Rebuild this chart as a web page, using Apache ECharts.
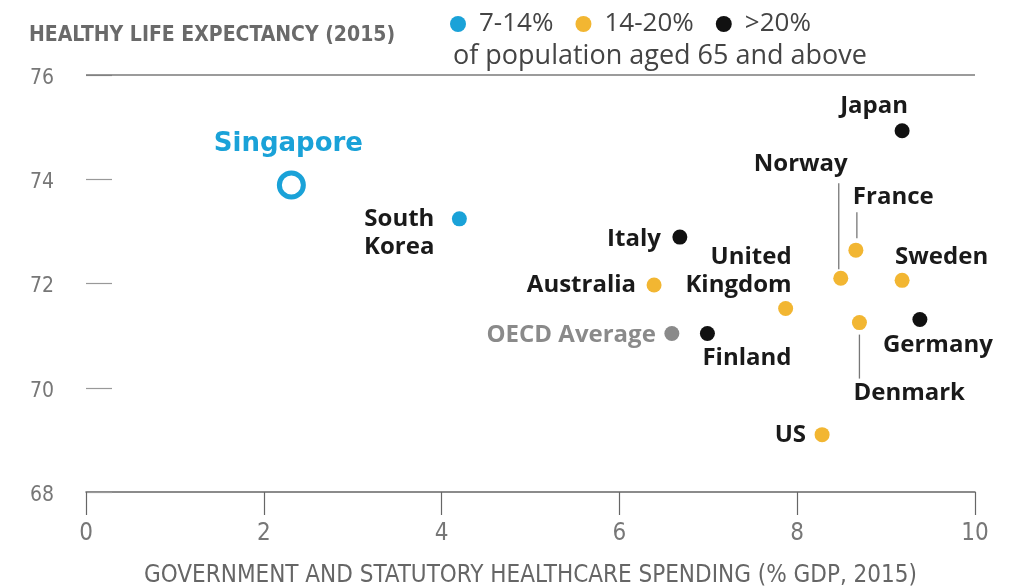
<!DOCTYPE html>
<html><head><meta charset="utf-8">
<script src="https://cdn.jsdelivr.net/npm/echarts@6/dist/echarts.min.js"></script>
<style>html,body{margin:0;padding:0;background:#fff;overflow:hidden;}#c{width:1021px;height:587px;}</style>
</head><body><div id="c"></div>
<script>
// ---- data ----
const countries = ['Singapore','South Korea','Japan','Italy','Finland','Germany','France','Norway','Sweden','Australia','United Kingdom','Denmark','US','OECD Average'];
const labelTexts = ['Singapore','South\nKorea','Japan','Italy','Finland','Germany','France','Norway','Sweden','Australia','United\nKingdom','Denmark','US','OECD Average'];
const spending = [2.31, 4.20, 9.18, 6.68, 6.99, 9.38, 8.66, 8.49, 9.18, 6.39, 7.87, 8.70, 8.28, 6.59];
const lifeExp  = [73.89, 73.24, 74.93, 72.89, 71.04, 71.31, 72.64, 72.10, 72.06, 71.97, 71.52, 71.25, 69.10, 71.04];
const ageGroup = ['7-14%','7-14%','>20%','>20%','>20%','>20%','14-20%','14-20%','14-20%','14-20%','14-20%','14-20%','14-20%','avg'];
const groups = ['7-14%','14-20%','>20%'];
const xTicks = [0,2,4,6,8,10];
const yTicks = [68,70,72,74,76];
const legendNote = 'of population aged 65 and above';
const yTitle = 'HEALTHY LIFE EXPECTANCY (2015)';
const xTitle = 'GOVERNMENT AND STATUTORY HEALTHCARE SPENDING (% GDP, 2015)';

// ---- styles / layout ----
const colors = {'7-14%':'#1aa2d8','14-20%':'#f2b632','>20%':'#111111','avg':'#8a8a8a'};
const labelPlace = { // dx, dy from point centre, align, verticalAlign
  'Singapore':[-3,-41,'center','middle'],
  'South Korea':[-25,14,'right','middle'],
  'Japan':[-28,-25,'center','middle'],
  'Norway':[7,-114,'right','middle'],
  'France':[-3,-53,'left','middle'],
  'Italy':[-19,2,'right','middle'],
  'United Kingdom':[6,-37,'right','middle'],
  'Australia':[-18,0,'right','middle'],
  'Sweden':[-7,-23,'left','middle'],
  'OECD Average':[-16,2,'right','middle'],
  'Finland':[-5,25,'left','middle'],
  'Germany':[-37,26,'left','middle'],
  'Denmark':[-6,71,'left','middle'],
  'US':[-16,0,'right','middle']
};
const leaders = [ // name, dx, from dy, to dy
  ['Norway',-2,-9,-95],
  ['France',1,-12,-38],
  ['Denmark',0,12,56]
];
const labelFont = 'Open Sans';
const axisFont = "'DejaVu Sans Condensed', 'DejaVu Sans'";

function buildSeries(group){
  const idx = countries.map((c,i)=>i).filter(i=>ageGroup[i]===group);
  const names = idx.map(i=>countries[i]);
  return {
    name: group === 'avg' ? 'OECD Average' : group,
    type: 'scatter',
    symbolSize: 15,
    itemStyle: {color: colors[group], opacity: 1},
    emphasis: {disabled: true},
    data: idx.map(i=>{
      const d = {name: countries[i], value: [spending[i], lifeExp[i]],
        label: {formatter: labelTexts[i]}};
      if (countries[i] === 'Singapore') {
        d.symbolSize = 24;
        d.itemStyle = {color:'#fff', borderColor: colors[group], borderWidth: 5};
        d.label = {formatter: labelTexts[i], color: colors[group], fontSize: 26,
          fontFamily: 'DejaVu Sans', fontWeight: 'bold'};
      }
      return d;
    }),
    label: {
      show: true,
      position: 'inside',
      fontFamily: labelFont,
      fontWeight: 'bold',
      fontSize: 24,
      lineHeight: 28,
      color: group === 'avg' ? '#8a8a8a' : '#1a1a1a'
    },
    labelLayout: function(p){
      const L = labelPlace[names[p.dataIndex]];
      const cx = p.rect.x + p.rect.width/2, cy = p.rect.y + p.rect.height/2;
      return {x: cx + L[0], y: cy + L[1], align: L[2], verticalAlign: L[3]};
    }
  };
}

const series = groups.map(buildSeries).concat([buildSeries('avg')]);
series[0].markLine = {
  silent: true, symbol: 'none', label: {show:false},
  lineStyle: {color:'#7a7a7a', width: 1.5, type:'solid'},
  data: [{yAxis: yTicks[yTicks.length-1]}]
};

const chart = echarts.init(document.getElementById('c'));
chart.setOption({
  animation: false,
  backgroundColor: '#fff',
  title: {
    text: yTitle, left: 29, top: 25, padding: 0,
    textStyle: {fontFamily: axisFont, fontWeight: 'bold', fontSize: 21, color: '#6a6a6a'}
  },
  legend: {
    data: groups, left: 450, top: 11, padding: 0,
    icon: 'circle', itemWidth: 16, itemHeight: 16, itemGap: 22,
    textStyle: {fontFamily: labelFont, fontSize: 26, color: '#444', padding: [8,0,0,8]},
    selectedMode: false
  },
  grid: {left: 86, right: 46, top: 75, bottom: 95, containLabel: false, outerBoundsMode: 'none'},
  xAxis: {
    type: 'value', min: xTicks[0], max: xTicks[xTicks.length-1], interval: 2,
    name: xTitle, nameLocation: 'middle', nameGap: 72,
    nameTextStyle: {fontFamily: axisFont, fontSize: 24, color: '#666'},
    axisLine: {show: true, lineStyle: {color: '#666', width: 1.5}},
    axisTick: {show: true, length: 23, lineStyle: {color: '#666', width: 1.2}},
    axisLabel: {margin: 30, fontFamily: axisFont, fontSize: 24, color: '#777'},
    splitLine: {show: false}
  },
  yAxis: {
    type: 'value', min: yTicks[0], max: yTicks[yTicks.length-1], interval: 2,
    axisLine: {show: false},
    axisTick: {show: true, inside: true, length: 26, lineStyle: {color: '#999', width: 1.2}},
    axisLabel: {
      margin: 32,
      formatter: v => '{v|' + v + '}',
      rich: {v: {fontFamily: axisFont, fontSize: 21, color: '#777', padding: [7,0,0,0]}}
    },
    splitLine: {show: false}
  },
  graphic: [{
    type: 'text', id: 'note', left: 453, top: 43,
    style: {text: legendNote, fontFamily: labelFont, fontSize: 27, fill: '#444'}
  }],
  series: series
});

const lines = leaders.map((l,k)=>{
  const i = countries.indexOf(l[0]);
  const p = chart.convertToPixel({gridIndex: 0}, [spending[i], lifeExp[i]]);
  return {type:'line', id:'leader'+k, silent:true,
    shape:{x1:p[0]+l[1], y1:p[1]+l[2], x2:p[0]+l[1], y2:p[1]+l[3]},
    style:{stroke:'#777', lineWidth:1.3}};
});
chart.setOption({graphic: lines});
</script>
</body></html>
